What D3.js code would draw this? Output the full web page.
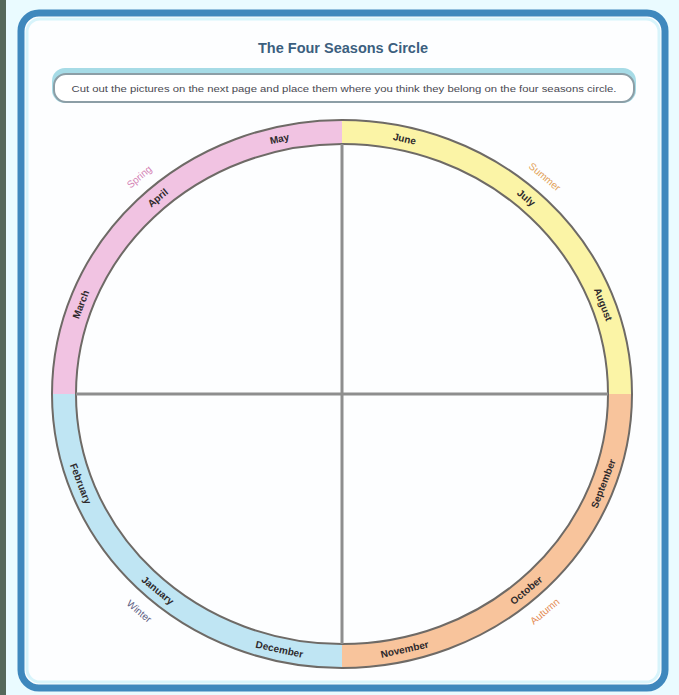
<!DOCTYPE html>
<html>
<head>
<meta charset="utf-8">
<script src="https://cdn.jsdelivr.net/npm/d3@7"></script>
<style>
  body { margin: 0; background: #eafbff; }
  svg { display: block; }
</style>
</head>
<body>
<script>
// seasons and months, clockwise starting at 12 o'clock
var seasons = ["Summer", "Autumn", "Winter", "Spring"];
var months = ["June", "July", "August",
              "September", "October", "November",
              "December", "January", "February",
              "March", "April", "May"];
var title = "The Four Seasons Circle";
var instruction = "Cut out the pictures on the next page and place them where you think they belong on the four seasons circle.";

var W = 679, H = 695;
var cx = 342, cy = 394;
var outerRx = 290, outerRy = 274, band = 24;

var svg = d3.select("body").append("svg")
    .attr("width", W)
    .attr("height", H);

// dark strip on the left edge of the scan
svg.append("rect").attr("x", 0).attr("y", 0).attr("width", 6).attr("height", H).attr("fill", "#56685a");

// frame
svg.append("rect")
    .attr("x", 21).attr("y", 13).attr("width", 644).attr("height", 675)
    .attr("rx", 18)
    .attr("fill", "#fdfeff")
    .attr("stroke", "#3f88bd")
    .attr("stroke-width", 7);
svg.append("rect")
    .attr("x", 27).attr("y", 19).attr("width", 632).attr("height", 663)
    .attr("rx", 13)
    .attr("fill", "none")
    .attr("stroke", "#d8f4fb")
    .attr("stroke-width", 3);

// title
svg.append("text")
    .attr("x", 343).attr("y", 53)
    .attr("text-anchor", "middle")
    .attr("textLength", 170)
    .attr("lengthAdjust", "spacingAndGlyphs")
    .style("font-family", "Liberation Sans, Arial, sans-serif")
    .style("font-weight", "bold")
    .style("font-size", "14px")
    .attr("fill", "#3b5f7e")
    .text(title);

// instruction box
svg.append("rect")
    .attr("x", 52).attr("y", 68).attr("width", 584).attr("height", 35)
    .attr("rx", 13)
    .attr("fill", "#a6dbe6");
svg.append("rect")
    .attr("x", 54).attr("y", 74).attr("width", 580).attr("height", 28)
    .attr("rx", 12)
    .attr("fill", "#ffffff")
    .attr("stroke", "#8c9ea6")
    .attr("stroke-width", 2);
svg.append("text")
    .attr("x", 344).attr("y", 92)
    .attr("text-anchor", "middle")
    .attr("textLength", 545)
    .attr("lengthAdjust", "spacingAndGlyphs")
    .style("font-family", "Liberation Sans, Arial, sans-serif")
    .style("font-size", "9px")
    .attr("fill", "#4a4a52")
    .text(instruction);

// scales
var quadScale = d3.scaleBand().domain(seasons).range([0, 360]);        // degrees, clockwise from top
var slotScale = d3.scaleLinear().domain([0, 2]).range([13, 70]);       // slot distance from the vertical axis
var color = d3.scaleOrdinal().domain(seasons)
    .range(["#fbf4a6", "#f8c49c", "#bfe5f3", "#f1c3e2"]);
var labelColor = d3.scaleOrdinal().domain(seasons)
    .range(["#e2a25a", "#e48a52", "#5e5f84", "#d483b5"]);

// angle of a slot inside a quarter, measured from the vertical axis
function slotAngle(q, j) {
    var start = quadScale(seasons[q]);
    if (q % 2 === 0) return start + slotScale(j);
    return start + quadScale.bandwidth() - slotScale(2 - j);
}

function pt(deg, rx, ry) {
    var t = deg * Math.PI / 180;
    return [cx + rx * Math.sin(t), cy - ry * Math.cos(t)];
}
function tangent(deg, rx, ry) {
    var t = deg * Math.PI / 180;
    var a = Math.atan2(ry * Math.sin(t), rx * Math.cos(t)) * 180 / Math.PI;
    if (deg % 360 > 90 && deg % 360 < 270) a += 180;
    return a;
}

var line = d3.line().curve(d3.curveLinearClosed);
var inRx = outerRx - band, inRy = outerRy - band;

// coloured quarters of the ring
svg.append("g").selectAll("path")
    .data(seasons)
    .enter()
    .append("path")
    .attr("d", function (d) {
        var a0 = quadScale(d), a1 = a0 + quadScale.bandwidth();
        var steps = d3.range(0, 61).map(function (i) { return a0 + (a1 - a0) * i / 60; });
        var outer = steps.map(function (a) { return pt(a, outerRx, outerRy); });
        var inner = steps.slice().reverse().map(function (a) { return pt(a, inRx, inRy); });
        return line(outer.concat(inner));
    })
    .attr("fill", function (d) { return color(d); });

// ring outlines
[[outerRx, outerRy], [inRx, inRy]].forEach(function (r) {
    svg.append("ellipse")
        .attr("cx", cx).attr("cy", cy)
        .attr("rx", r[0]).attr("ry", r[1])
        .attr("fill", "none")
        .attr("stroke", "#6e6a66")
        .attr("stroke-width", 2);
});

// cross lines
svg.append("line")
    .attr("x1", cx).attr("x2", cx)
    .attr("y1", cy - inRy).attr("y2", cy + inRy)
    .attr("stroke", "#8e8e8e").attr("stroke-width", 3);
svg.append("line")
    .attr("x1", cx - inRx).attr("x2", cx + inRx)
    .attr("y1", cy).attr("y2", cy)
    .attr("stroke", "#8e8e8e").attr("stroke-width", 3);

// month labels in the ring
var midRx = outerRx - band / 2, midRy = outerRy - band / 2;
svg.append("g").selectAll("text")
    .data(months)
    .enter()
    .append("text")
    .attr("transform", function (d, i) {
        var a = slotAngle(Math.floor(i / 3), i % 3);
        var p = pt(a, midRx, midRy);
        return "translate(" + p[0] + "," + p[1] + ") rotate(" + tangent(a, midRx, midRy) + ")";
    })
    .attr("text-anchor", "middle")
    .attr("dy", "0.35em")
    .style("font-family", "Liberation Sans, Arial, sans-serif")
    .style("font-weight", "bold")
    .style("font-size", "10px")
    .attr("fill", "#2e2a2c")
    .text(function (d) { return d; });

// season names outside the ring, next to the middle month
svg.append("g").selectAll("text")
    .data(seasons)
    .enter()
    .append("text")
    .attr("transform", function (d, q) {
        var a = slotAngle(q, 1);
        var p = pt(a, outerRx + 16, outerRy + 16);
        return "translate(" + p[0] + "," + p[1] + ") rotate(" + tangent(a, outerRx, outerRy) + ")";
    })
    .attr("text-anchor", "middle")
    .attr("dy", "0.35em")
    .style("font-family", "Liberation Sans, Arial, sans-serif")
    .style("font-size", "10px")
    .attr("fill", function (d) { return labelColor(d); })
    .text(function (d) { return d; });
</script>
</body>
</html>
